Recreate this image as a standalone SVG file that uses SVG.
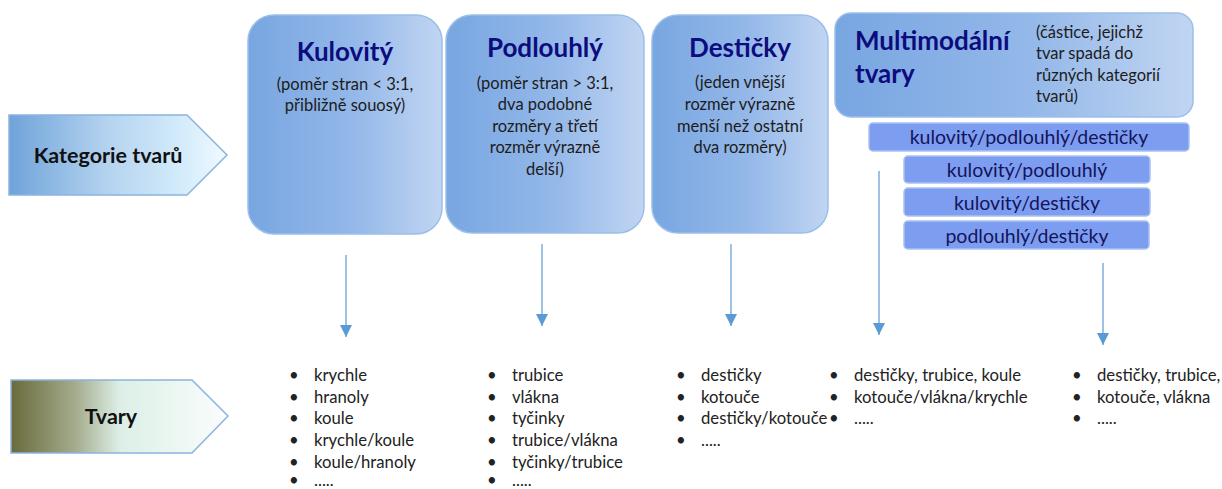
<svg xmlns="http://www.w3.org/2000/svg" width="1222" height="489" viewBox="0 0 1222 489">
<defs>
<linearGradient id="gCat" x1="0" y1="0" x2="1" y2="0">
<stop offset="0" stop-color="#6fa3da"/>
<stop offset="0.45" stop-color="#b4d3ef"/>
<stop offset="0.8" stop-color="#d4ecfb"/>
<stop offset="1" stop-color="#f2f9ff"/>
</linearGradient>
<linearGradient id="gTv" x1="0" y1="0" x2="1" y2="0">
<stop offset="0" stop-color="#6a6a3c"/>
<stop offset="0.3" stop-color="#a5ad8e"/>
<stop offset="0.5" stop-color="#dcefe6"/>
<stop offset="1" stop-color="#fbfdfd"/>
</linearGradient>
<linearGradient id="gBox" x1="0" y1="0" x2="1" y2="0">
<stop offset="0" stop-color="#78a6e1"/>
<stop offset="0.55" stop-color="#94b8e9"/>
<stop offset="1" stop-color="#c1d5f2"/>
</linearGradient>
<marker id="ah" markerUnits="userSpaceOnUse" markerWidth="12" markerHeight="12" viewBox="0 0 10 10" refX="10" refY="5" orient="auto">
<path d="M0,0 L10,5 L0,10 z" fill="#5b9bd5"/>
</marker>
<style>
.big{fill:url(#gBox);stroke:#9cbfe9;stroke-width:1.5}
.small{fill:#7d9df1;stroke:#a9c1f1;stroke-width:1.5}
.ttl{font-family:Lato,"Liberation Sans",sans-serif;font-weight:bold;font-size:26px;fill:#0c0c7e}
.sub{font-family:Lato,"Liberation Sans",sans-serif;font-size:16.5px;fill:#1c1c1c}
.sm{font-family:Lato,"Liberation Sans",sans-serif;font-size:19.5px;fill:#14145a;text-anchor:middle}
.lbl{font-family:Lato,"Liberation Sans",sans-serif;font-weight:bold;font-size:21.5px;fill:#111;text-anchor:middle}
.li{font-family:Lato,"Liberation Sans",sans-serif;font-size:16.7px;fill:#222}
.c{text-anchor:middle}
.conn{stroke:#5b9bd5;stroke-width:1.2;fill:none;marker-end:url(#ah)}
.arr{stroke:#8ab4e0;stroke-width:1.5}
</style>
</defs>

<g id="kategorie">
<polygon class="arr" points="9,115 187,115 227,155 187,195 9,195" fill="url(#gCat)"/>
<text class="lbl" x="108" y="163">Kategorie tvarů</text>
</g>

<g id="tvary">
<polygon class="arr" points="11,380 192,380 228,416 192,453 11,453" fill="url(#gTv)"/>
<text class="lbl" x="111" y="424">Tvary</text>
</g>

<g id="kulovity">
<rect class="big" x="248" y="15" width="194" height="219" rx="26"/>
<text class="ttl c" x="345" y="61">Kulovitý</text>
<text class="sub c" x="345" y="90">(poměr stran &lt; 3:1,</text>
<text class="sub c" x="345" y="111">přibližně souosý)</text>
</g>

<g id="podlouhly">
<rect class="big" x="446" y="15" width="198" height="218" rx="26"/>
<text class="ttl c" x="545" y="57">Podlouhlý</text>
<text class="sub c" x="545" y="89">(poměr stran &gt; 3:1,</text>
<text class="sub c" x="545" y="110">dva podobné</text>
<text class="sub c" x="545" y="132">rozměry a třetí</text>
<text class="sub c" x="545" y="153">rozměr výrazně</text>
<text class="sub c" x="545" y="175">delší)</text>
</g>

<g id="desticky">
<rect class="big" x="652" y="15" width="176" height="218" rx="26"/>
<text class="ttl c" x="740" y="57">Destičky</text>
<text class="sub c" x="740" y="88">(jeden vnější</text>
<text class="sub c" x="740" y="110">rozměr výrazně</text>
<text class="sub c" x="740" y="132">menší než ostatní</text>
<text class="sub c" x="740" y="153">dva rozměry)</text>
</g>

<g id="multimodalni">
<rect class="big" x="835" y="13" width="358" height="104" rx="16"/>
<text class="ttl" x="855" y="50">Multimodální</text>
<text class="ttl" x="855" y="83">tvary</text>
<text class="sub" x="1036" y="38">(částice, jejichž</text>
<text class="sub" x="1036" y="59">tvar spadá do</text>
<text class="sub" x="1036" y="81">různých kategorií</text>
<text class="sub" x="1036" y="102">tvarů)</text>
</g>

<g id="kpd">
<rect class="small" x="869" y="123" width="320" height="28" rx="4"/>
<text class="sm" x="1029" y="144">kulovitý/podlouhlý/destičky</text>
</g>
<g id="kp">
<rect class="small" x="904" y="156" width="246" height="27" rx="4"/>
<text class="sm" x="1027" y="177">kulovitý/podlouhlý</text>
</g>
<g id="kd">
<rect class="small" x="904" y="188" width="246" height="28" rx="4"/>
<text class="sm" x="1027" y="210">kulovitý/destičky</text>
</g>
<g id="pd">
<rect class="small" x="904" y="221" width="245" height="28" rx="4"/>
<text class="sm" x="1027" y="243">podlouhlý/destičky</text>
</g>

<g id="connectors">
<line class="conn" x1="346" y1="255" x2="346" y2="337"/>
<line class="conn" x1="542" y1="244" x2="542" y2="326"/>
<line class="conn" x1="731" y1="244" x2="731" y2="326"/>
<line class="conn" x1="879" y1="171" x2="879" y2="335"/>
<line class="conn" x1="1103" y1="263" x2="1103" y2="345"/>
</g>

<g id="list-kulovity" class="li">
<text x="289" y="381">•</text><text x="314" y="381">krychle</text>
<text x="289" y="403">•</text><text x="314" y="403">hranoly</text>
<text x="289" y="424">•</text><text x="314" y="424">koule</text>
<text x="289" y="446">•</text><text x="314" y="446">krychle/koule</text>
<text x="289" y="468">•</text><text x="314" y="468">koule/hranoly</text>
<text x="289" y="486">•</text><text x="314" y="486">.....</text>
</g>

<g id="list-podlouhly" class="li">
<text x="487" y="381">•</text><text x="512" y="381">trubice</text>
<text x="487" y="403">•</text><text x="512" y="403">vlákna</text>
<text x="487" y="424">•</text><text x="512" y="424">tyčinky</text>
<text x="487" y="446">•</text><text x="512" y="446">trubice/vlákna</text>
<text x="487" y="468">•</text><text x="512" y="468">tyčinky/trubice</text>
<text x="487" y="486">•</text><text x="512" y="486">.....</text>
</g>

<g id="list-desticky" class="li">
<text x="676" y="381">•</text><text x="701" y="381">destičky</text>
<text x="676" y="403">•</text><text x="701" y="403">kotouče</text>
<text x="676" y="424">•</text><text x="701" y="424">destičky/kotouče</text>
<text x="676" y="446">•</text><text x="701" y="446">.....</text>
</g>

<g id="list-multi1" class="li">
<text x="829" y="381">•</text><text x="854" y="381">destičky, trubice, koule</text>
<text x="829" y="403">•</text><text x="854" y="403">kotouče/vlákna/krychle</text>
<text x="829" y="424">•</text><text x="854" y="424">.....</text>
</g>

<g id="list-multi2" class="li">
<text x="1072" y="381">•</text><text x="1097" y="381">destičky, trubice,</text>
<text x="1072" y="403">•</text><text x="1097" y="403">kotouče, vlákna</text>
<text x="1072" y="424">•</text><text x="1097" y="424">.....</text>
</g>
</svg>
